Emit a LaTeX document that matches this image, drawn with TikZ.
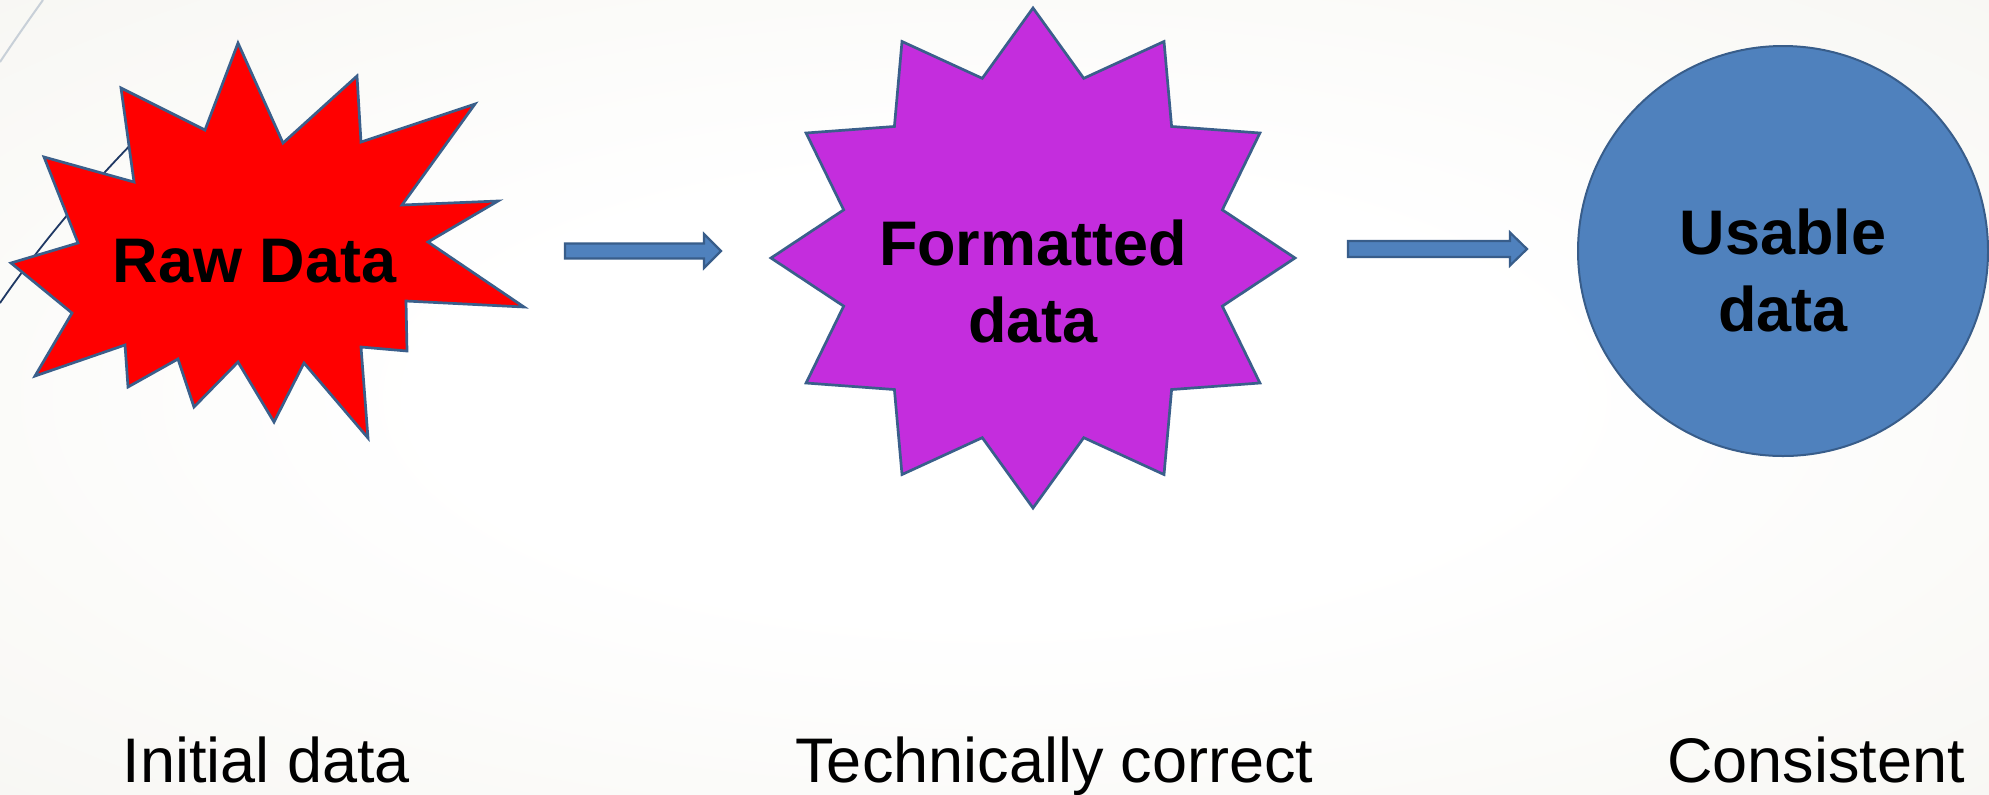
\documentclass[tikz,border=0pt]{standalone}
\usepackage{fontspec}
\setmainfont{Liberation Sans}
\usetikzlibrary{calc}

% palette
\definecolor{bgedge}{RGB}{243,242,236}
\definecolor{bgcorner}{RGB}{238,237,230}
\definecolor{starline}{RGB}{58,95,139}
\definecolor{rawred}{RGB}{255,0,0}
\definecolor{fmtpurple}{RGB}{196,45,221}
\definecolor{useblue}{RGB}{79,129,189}
\definecolor{useline}{RGB}{56,93,138}
\definecolor{decoline}{RGB}{31,56,100}
\definecolor{decogray}{RGB}{200,208,216}

% soft page background, white in the middle
\pgfdeclareradialshading{pagebg}{\pgfpoint{0bp}{0bp}}{%
  color(0bp)=(white); color(14bp)=(white); color(50bp)=(bgedge); color(72bp)=(bgcorner)}

\tikzset{
  shapeline/.style={draw=starline, line width=1.35pt, line join=miter},
  blockarrow/.style={draw=useline, line width=1.1pt, fill=useblue, line join=miter},
  shapelabel/.style={font=\fontsize{31.5}{38.5}\selectfont\bfseries, align=center,
                     anchor=base, inner sep=0pt, text=black},
  caption/.style={font=\fontsize{31.5}{38}\selectfont, anchor=base, inner sep=0pt, text=black},
}

% horizontal block arrow from #1 to #2: shaft half height #3, head half height #4, head length #5
\newcommand\blockarrowpath[5]{%
  \draw[blockarrow] ($(#1)+(0,-#3)$) -- ($(#2)+(-#5,-#3)$) -- ($(#2)+(-#5,-#4)$) -- (#2)
    -- ($(#2)+(-#5,#4)$) -- ($(#2)+(-#5,#3)$) -- ($(#1)+(0,#3)$) -- cycle;}

\begin{document}
\begin{tikzpicture}[x=0.5pt, y=-0.5pt]
\useasboundingbox (0,0) rectangle (1989,794);
\shade[shading=pagebg] (0,0) rectangle (1989,794);

% corner ornaments
\draw[decogray, line width=1pt] (0,62) .. controls (14,41) and (28,21) .. (43,0);
\draw[decoline, line width=0.9pt] (0,303) .. controls (40,245) and (90,185) .. (150,125);

% raw data burst
\draw[shapeline, fill=rawred]
  (238,43) -- (283,143) -- (357,76) -- (361,142) -- (475,104) -- (402,205)
  -- (498,201) -- (428,242) -- (524,307) -- (406,301) -- (407,351) -- (361,347)
  -- (368,438) -- (304,363) -- (274,422) -- (238,362) -- (194,407) -- (178,359)
  -- (128,387) -- (125,345) -- (35,376) -- (72,313) -- (11,263) -- (78,243)
  -- (44,157) -- (134,182) -- (121,88) -- (205,130) -- cycle;
\node[shapelabel] (raw) at (254.5,282) {Raw Data};

% formatted data: twelve-pointed star
\coordinate (fmtc) at (1033,258);
\draw[shapeline, fill=fmtpurple]
  ($(fmtc)+(90:262 and 250)$)
  \foreach \a in {0,30,...,300} {
    -- ($(fmtc)+({105+\a}:196 and 186)$) -- ($(fmtc)+({120+\a}:262 and 250)$)
  } -- ($(fmtc)+(75:196 and 186)$) -- cycle;
% base anchor of a two-line label sits on its last line
\node[shapelabel] (fmt) at (1033,342) {Formatted\\data};

% usable data: circle
\node[circle, draw=useline, line width=1pt, fill=useblue, minimum size=205pt,
      inner sep=0pt] (usable) at (1783,251) {};
\node[shapelabel] (usetext) at (1783,331) {Usable\\data};

% block arrows between the stages
\coordinate (arrAfrom) at (565,251);
\coordinate (arrAto) at (721,251);
\blockarrowpath{arrAfrom}{arrAto}{7.5}{17}{17}
\coordinate (arrBfrom) at (1348,249);
\coordinate (arrBto) at (1527,249);
\blockarrowpath{arrBfrom}{arrBto}{8}{16.5}{17}

% stage captions
\node[caption] (capA) at (266.5,782) {Initial data};
\node[caption] (capB) at (1054.5,782) {Technically correct};
\node[caption] (capC) at (1816,782) {Consistent};
\end{tikzpicture}
\end{document}
